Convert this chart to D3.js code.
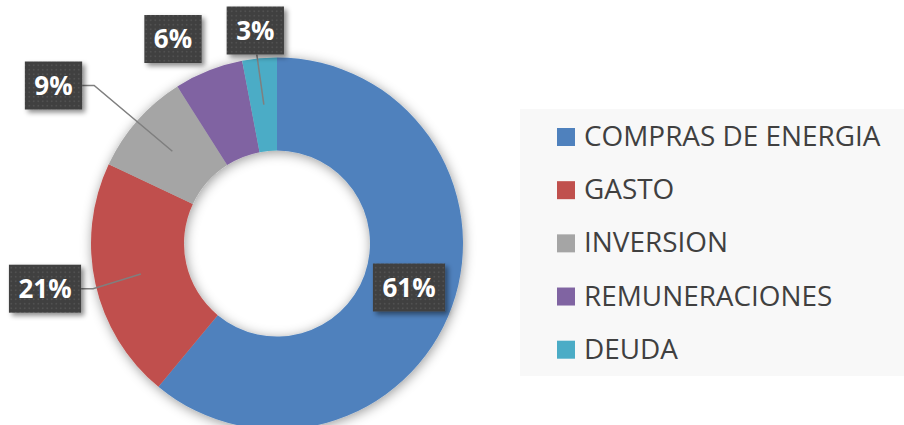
<!DOCTYPE html>
<html>
<head>
<meta charset="utf-8">
<script src="https://cdn.jsdelivr.net/npm/d3@7"></script>
<style>
  html, body { margin: 0; padding: 0; background: #ffffff; }
  svg { display: block; }
</style>
</head>
<body>
<svg id="chart" width="904" height="425"></svg>
<script>
// Budget distribution (share of total, %)
const categories = ["COMPRAS DE ENERGIA", "GASTO", "INVERSION", "REMUNERACIONES", "DEUDA"];
const shares = [61, 21, 9, 6, 3];
const colors = ["#4f81bd", "#c0504d", "#a5a5a5", "#8064a2", "#4bacc6"];

// Placement of each value callout (centre of the box) and its leader style
const callouts = [
  { cx: 409, cy: 287.5, leader: "none" },
  { cx: 45,  cy: 288.7, leader: "right" },
  { cx: 53.5, cy: 85.5, leader: "right" },
  { cx: 173, cy: 39,    leader: "none" },
  { cx: 255.3, cy: 30.5, leader: "bottom" }
];

const W = 904, H = 425;
const centre = { x: 277, y: 243.5 };
const outerR = 186, innerR = 93;

const svg = d3.select("#chart");
const defs = svg.append("defs");

// soft halo around the ring
const ringShadow = defs.append("filter").attr("id", "ringShadow")
  .attr("x", "-20%").attr("y", "-20%").attr("width", "140%").attr("height", "140%");
ringShadow.append("feGaussianBlur").attr("in", "SourceAlpha").attr("stdDeviation", 6).attr("result", "blur");
ringShadow.append("feOffset").attr("in", "blur").attr("dx", 1).attr("dy", 2).attr("result", "off");
ringShadow.append("feFlood").attr("flood-color", "#000").attr("flood-opacity", 0.4).attr("result", "col");
ringShadow.append("feComposite").attr("in", "col").attr("in2", "off").attr("operator", "in").attr("result", "shadow");
const rm = ringShadow.append("feMerge");
rm.append("feMergeNode").attr("in", "shadow");
rm.append("feMergeNode").attr("in", "SourceGraphic");

// shadow under the callout boxes
const boxShadow = defs.append("filter").attr("id", "boxShadow")
  .attr("x", "-30%").attr("y", "-30%").attr("width", "160%").attr("height", "160%");
boxShadow.append("feGaussianBlur").attr("in", "SourceAlpha").attr("stdDeviation", 2.5).attr("result", "blur");
boxShadow.append("feOffset").attr("in", "blur").attr("dx", 3).attr("dy", 3).attr("result", "off");
boxShadow.append("feFlood").attr("flood-color", "#000").attr("flood-opacity", 0.45).attr("result", "col");
boxShadow.append("feComposite").attr("in", "col").attr("in2", "off").attr("operator", "in").attr("result", "shadow");
const bm = boxShadow.append("feMerge");
bm.append("feMergeNode").attr("in", "shadow");
bm.append("feMergeNode").attr("in", "SourceGraphic");

// dotted dark fill for the callouts
const pat = defs.append("pattern").attr("id", "dots")
  .attr("patternUnits", "userSpaceOnUse").attr("width", 4.5).attr("height", 4.5);
pat.append("rect").attr("width", 4.5).attr("height", 4.5).attr("fill", "#3f3f3f");
pat.append("rect").attr("x", 1.5).attr("y", 1.5).attr("width", 1.5).attr("height", 1.5).attr("fill", "#5a5a5a");

// ---- legend ----
const legend = svg.append("g");
legend.append("rect")
  .attr("x", 520).attr("y", 109).attr("width", W - 520).attr("height", 267)
  .attr("fill", "#f8f8f8");

const rowY = d3.scalePoint().domain(categories).range([146, 358.7]);
const items = legend.selectAll("g.item").data(categories).join("g").attr("class", "item");
items.append("rect")
  .attr("x", 557).attr("y", d => rowY(d) - 18)
  .attr("width", 18).attr("height", 18)
  .attr("fill", (d, i) => colors[i]);
items.append("text")
  .attr("x", 584).attr("y", d => rowY(d))
  .attr("font-family", "'Open Sans', sans-serif")
  .attr("font-size", 27.9)
  .attr("fill", "#404040")
  .text(d => d);

// ---- donut ----
const pie = d3.pie().sort(null).value(d => d);
const arcs = pie(shares);
const arc = d3.arc().innerRadius(innerR).outerRadius(outerR);
const mid = d3.arc().innerRadius((innerR + outerR) / 2).outerRadius((innerR + outerR) / 2);

const ring = svg.append("g")
  .attr("transform", `translate(${centre.x},${centre.y})`)
  .attr("filter", "url(#ringShadow)");
ring.selectAll("path").data(arcs).join("path")
  .attr("d", arc)
  .attr("fill", (d, i) => colors[i]);

// ---- callouts ----
const fmt = d => d + "%";
const labelLayer = svg.append("g");

// measure text to size boxes
const probe = labelLayer.append("text")
  .attr("font-family", "'Open Sans', sans-serif")
  .attr("font-weight", 700).attr("font-size", 26);

arcs.forEach((a, i) => {
  const c = callouts[i];
  probe.text(fmt(shares[i]));
  const tw = probe.node().getComputedTextLength();
  const bw = tw + 19, bh = 48;
  const bx = c.cx - bw / 2, by = c.cy - bh / 2;
  const [mx, my] = mid.centroid(a);
  const px = centre.x + mx, py = centre.y + my;

  if (c.leader === "right") {
    const sx = bx + bw;
    labelLayer.append("polyline")
      .attr("points", [[sx, c.cy], [sx + 12, c.cy], [px, py]].map(p => p.join(",")).join(" "))
      .attr("fill", "none").attr("stroke", "#7f7f7f").attr("stroke-width", 1.5);
  } else if (c.leader === "bottom") {
    labelLayer.append("line")
      .attr("x1", c.cx + 1.5).attr("y1", by + bh)
      .attr("x2", px).attr("y2", py)
      .attr("stroke", "#7f7f7f").attr("stroke-width", 1.5);
  }

  const g = labelLayer.append("g");
  g.append("rect")
    .attr("x", bx).attr("y", by).attr("width", bw).attr("height", bh)
    .attr("fill", "url(#dots)")
    .attr("filter", "url(#boxShadow)");
  g.append("text")
    .attr("x", c.cx).attr("y", c.cy + 9)
    .attr("text-anchor", "middle")
    .attr("font-family", "'Open Sans', sans-serif")
    .attr("font-weight", 700).attr("font-size", 26)
    .attr("fill", "#ffffff")
    .text(fmt(shares[i]));
});
probe.remove();
</script>
</body>
</html>
